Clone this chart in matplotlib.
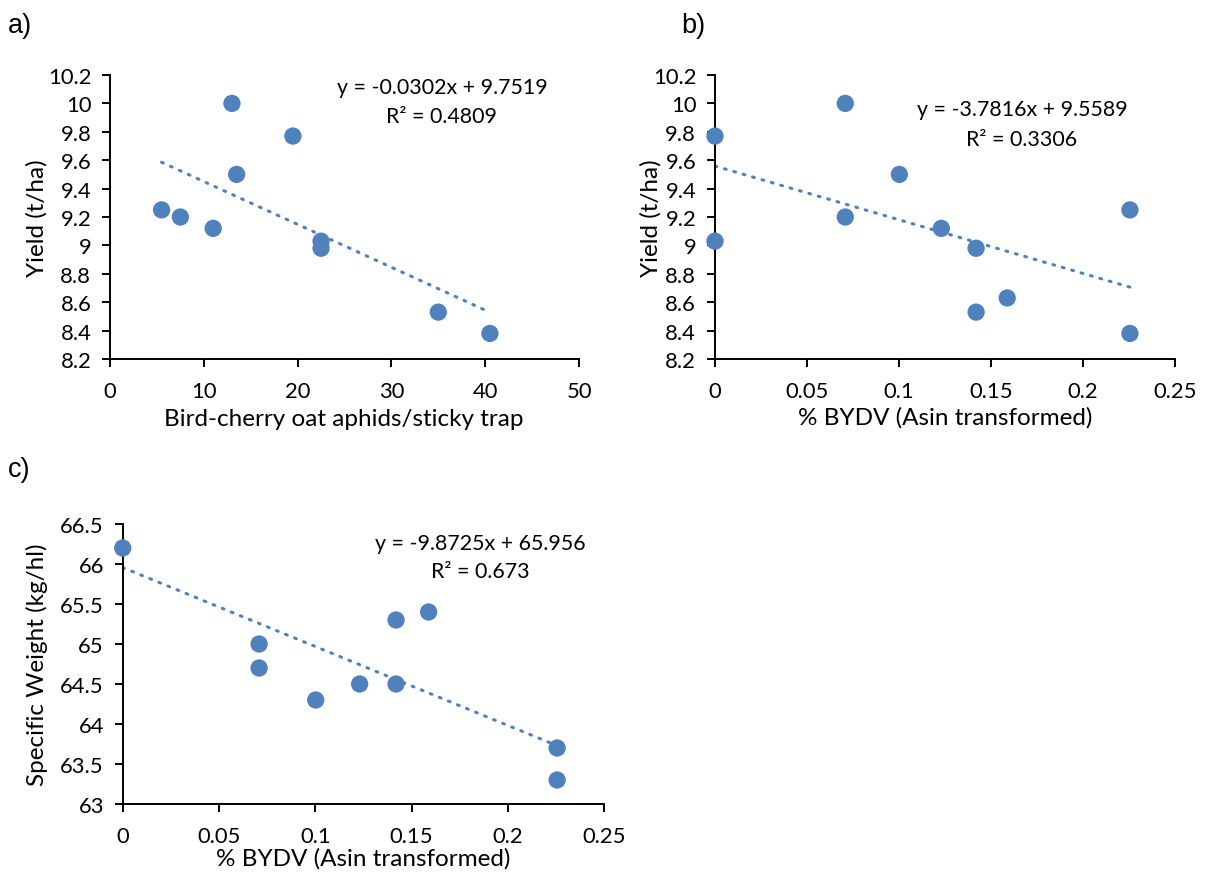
import matplotlib
matplotlib.use("Agg")
import matplotlib.pyplot as plt
import numpy as np

plt.rcParams['font.family'] = ['Lato', 'DejaVu Sans']

# ---------------- data ----------------
aphids_x = [5.5, 7.5, 11, 13, 13.5, 19.5, 22.5, 22.5, 35, 40.5]
aphids_yield = [9.25, 9.20, 9.12, 10.0, 9.50, 9.77, 9.03, 8.98, 8.53, 8.38]
aphids_fit = (-0.0302, 9.7519)
aphids_eq = ["y = -0.0302x + 9.7519", "R² = 0.4809"]

bydv_x_b = [0, 0, 0.0708, 0.0708, 0.1002, 0.1230, 0.1419, 0.1419, 0.1588, 0.2255, 0.2255]
bydv_yield = [9.77, 9.03, 10.0, 9.20, 9.50, 9.12, 8.98, 8.53, 8.63, 9.25, 8.38]
bydv_fit = (-3.7816, 9.5589)
bydv_eq = ["y = -3.7816x + 9.5589", "R² = 0.3306"]

bydv_x_c = [0, 0.0708, 0.0708, 0.1002, 0.1230, 0.1419, 0.1419, 0.1588, 0.2255, 0.2255]
sw_values = [66.2, 65.0, 64.7, 64.3, 64.5, 65.3, 64.5, 65.4, 63.7, 63.3]
sw_fit = (-9.8725, 65.956)
sw_eq = ["y = -9.8725x + 65.956", "R² = 0.673"]

yield_ticks = [8.2, 8.4, 8.6, 8.8, 9.0, 9.2, 9.4, 9.6, 9.8, 10.0, 10.2]
aphid_ticks = [0, 10, 20, 30, 40, 50]
bydv_ticks = [0, 0.05, 0.1, 0.15, 0.2, 0.25]
sw_ticks = [63, 63.5, 64, 64.5, 65, 65.5, 66, 66.5]

COL = '#4F81BD'
W, H = 1211, 879
TICK_FS = 15.8
LAB_FS = 17.5
EQ_FS = 15.4
fig = plt.figure(figsize=(W / 100, H / 100), dpi=100)


def px_axes(l, r, t, b):
    return fig.add_axes([l / W, 1 - b / H, (r - l) / W, (b - t) / H])


def fmt(v):
    return f"{v:g}"


def style(ax, xt, yt):
    for s in ['top', 'right']:
        ax.spines[s].set_visible(False)
    for s in ['left', 'bottom']:
        ax.spines[s].set_linewidth(1.4)
        ax.spines[s].set_color('black')
    ax.set_xticks(xt)
    ax.set_xticklabels([fmt(v) for v in xt])
    ax.set_yticks(yt)
    ax.set_yticklabels([fmt(round(v, 2)) for v in yt])
    ax.set_xlim(xt[0], xt[-1])
    ax.set_ylim(yt[0], yt[-1])
    ax.tick_params(direction='out', length=5.5, width=1.4, labelsize=TICK_FS,
                   colors='black')
    ax.tick_params(axis='y', pad=8)
    ax.tick_params(axis='x', pad=10)


def panel(ax, x, y, fit, eq, eqpos):
    x = np.asarray(x, float)
    xs = np.array([x.min(), x.max()])
    ax.plot(xs, fit[0] * xs + fit[1], color=COL, lw=2.2,
            linestyle=(0, (0.6, 2.6)), dash_capstyle='round', zorder=2)
    ax.scatter(x, y, s=155, color=COL, edgecolors='none', zorder=3, clip_on=False)
    (cx, y1), y2 = eqpos
    fig.text(cx / W, 1 - y1 / H, eq[0], ha='center', va='center', fontsize=EQ_FS)
    fig.text(cx / W, 1 - y2 / H, eq[1], ha='center', va='center', fontsize=EQ_FS)


# a)
axa = px_axes(110, 579, 76, 360)
style(axa, aphid_ticks, yield_ticks)
panel(axa, aphids_x, aphids_yield, aphids_fit, aphids_eq, ((442, 88), 117))
fig.text(37 / W, 1 - 218 / H, "Yield (t/ha)", rotation=90, ha='center', va='center', fontsize=LAB_FS)
fig.text(344 / W, 1 - 419 / H, "Bird-cherry oat aphids/sticky trap", ha='center', va='center', fontsize=LAB_FS)
fig.text(8 / W, 1 - 26 / H, "a)", ha='left', va='center', fontsize=19.5, family='Liberation Sans')

# b)
axb = px_axes(715, 1175, 76, 360)
style(axb, bydv_ticks, yield_ticks)
panel(axb, bydv_x_b, bydv_yield, bydv_fit, bydv_eq, ((1022, 110), 140))
fig.text(651 / W, 1 - 218 / H, "Yield (t/ha)", rotation=90, ha='center', va='center', fontsize=LAB_FS)
fig.text(945 / W, 1 - 418 / H, "% BYDV (Asin transformed)", ha='center', va='center', fontsize=LAB_FS)
fig.text(681 / W, 1 - 26 / H, "b)", ha='left', va='center', fontsize=19.5, family='Liberation Sans')

# c)
axc = px_axes(122.7, 604.3, 525, 805)
style(axc, bydv_ticks, sw_ticks)
panel(axc, bydv_x_c, sw_values, sw_fit, sw_eq, ((480, 544), 572))
fig.text(37 / W, 1 - 665 / H, "Specific Weight (kg/hl)", rotation=90, ha='center', va='center', fontsize=LAB_FS)
fig.text(363 / W, 1 - 859 / H, "% BYDV (Asin transformed)", ha='center', va='center', fontsize=LAB_FS)
fig.text(8 / W, 1 - 470 / H, "c)", ha='left', va='center', fontsize=19.5, family='Liberation Sans')

fig.savefig("out.png", dpi=100, facecolor='white')
